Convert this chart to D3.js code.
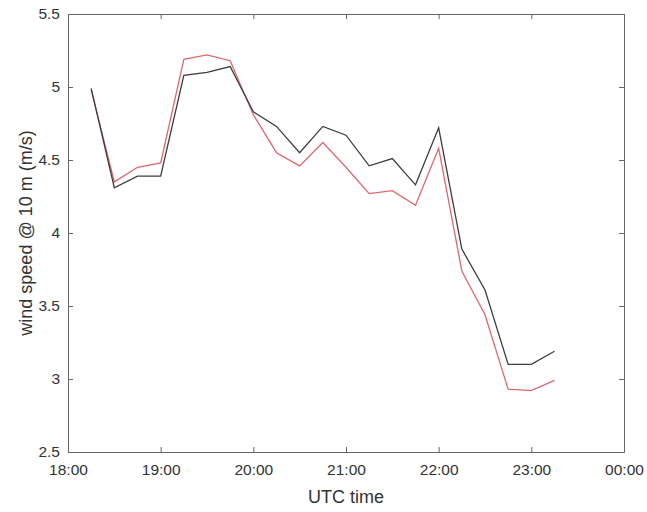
<html>
  <head>
    <title>wind speed</title>
    <script src="https://d3js.org/d3.v7.min.js"></script>
    <style>
      body { margin: 0; background: #fff; }
      text { font-family: "Liberation Sans", Arial, sans-serif; fill: #333; }
    </style>
  </head>
  <body>
  <script>
    // sample times (UTC), every 15 minutes
    var times = ["18:15", "18:30", "18:45", "19:00", "19:15", "19:30", "19:45",
                 "20:00", "20:15", "20:30", "20:45", "21:00", "21:15", "21:30",
                 "21:45", "22:00", "22:15", "22:30", "22:45", "23:00", "23:15"];

    // wind speed @ 10 m, two series
    var blackSeries = [4.99, 4.31, 4.39, 4.39, 5.08, 5.10, 5.14,
                       4.83, 4.73, 4.55, 4.73, 4.67, 4.46, 4.51,
                       4.33, 4.72, 3.89, 3.61, 3.10, 3.10, 3.19];
    var redSeries = [4.98, 4.35, 4.45, 4.48, 5.19, 5.22, 5.18,
                     4.81, 4.55, 4.46, 4.62, 4.45, 4.27, 4.29,
                     4.19, 4.58, 3.74, 3.44, 2.93, 2.92, 2.99];

    var yTicks = [2.5, 3, 3.5, 4, 4.5, 5, 5.5];
    var xTicks = ["18:00", "19:00", "20:00", "21:00", "22:00", "23:00", "24:00"];

    var width = 647;
    var height = 512;
    var margin = {top: 14, right: 23, bottom: 60, left: 68};
    var w = width - margin.left - margin.right;
    var h = height - margin.top - margin.bottom;

    // put every clock time on the same day, 24:00 rolls to next midnight
    function toDate(s) {
        var p = s.split(':');
        return new Date(2000, 0, 1, +p[0], +p[1]);
    }

    var svg = d3.select('body')
                .append('svg')
                .attr('width', width)
                .attr('height', height);

    var g = svg.append('g')
               .attr('transform', 'translate(' + margin.left + ',' + margin.top + ')');

    var x = d3.scaleTime()
              .domain([toDate(xTicks[0]), toDate(xTicks[xTicks.length - 1])])
              .range([0, w]);
    var y = d3.scaleLinear()
              .domain([yTicks[0], yTicks[yTicks.length - 1]])
              .range([h, 0]);

    var fmt = d3.timeFormat('%H:%M');
    var tickDates = xTicks.map(toDate);

    // axes, ticks pointing inward like matlab
    var bottom = g.append('g')
        .attr('transform', 'translate(0,' + h + ')')
        .call(d3.axisBottom(x).tickValues(tickDates).tickFormat(fmt).tickSize(-5).tickPadding(12));
    var left = g.append('g')
        .call(d3.axisLeft(y).tickValues(yTicks).tickFormat(d3.format('~g')).tickSize(-5).tickPadding(8));
    g.append('g')
        .call(d3.axisTop(x).tickValues(tickDates).tickFormat('').tickSize(-5));
    g.append('g')
        .attr('transform', 'translate(' + w + ',0)')
        .call(d3.axisRight(y).tickValues(yTicks).tickFormat('').tickSize(-5));

    g.selectAll('.domain').attr('stroke', '#666');
    g.selectAll('.tick line').attr('stroke', '#666');
    g.selectAll('.tick text').attr('fill', '#2e2e2e').style('font-size', '15.5px');
    bottom.selectAll('.tick text').attr('dy', '0.71em');

    var line = d3.line()
                 .x(function(d) { return x(d.t); })
                 .y(function(d) { return y(d.v); });

    var redData = times.map(function(t, i) { return {t: toDate(t), v: redSeries[i]}; });
    var blackData = times.map(function(t, i) { return {t: toDate(t), v: blackSeries[i]}; });

    g.append('path')
     .datum(redData)
     .attr('fill', 'none')
     .attr('stroke', '#e0666f')
     .attr('stroke-width', 1.3)
     .attr('d', line);

    g.append('path')
     .datum(blackData)
     .attr('fill', 'none')
     .attr('stroke', '#3d3d3d')
     .attr('stroke-width', 1.3)
     .attr('d', line);

    // axis labels
    svg.append('text')
       .attr('x', margin.left + w / 2)
       .attr('y', 503)
       .attr('text-anchor', 'middle')
       .attr('fill', '#2e2e2e')
       .style('font-size', '18px')
       .text('UTC time');

    svg.append('text')
       .attr('transform', 'translate(32,' + (margin.top + h / 2) + ') rotate(-90)')
       .attr('text-anchor', 'middle')
       .attr('fill', '#2e2e2e')
       .style('font-size', '18px')
       .text('wind speed @ 10 m (m/s)');
  </script>
  </body>
</html>
